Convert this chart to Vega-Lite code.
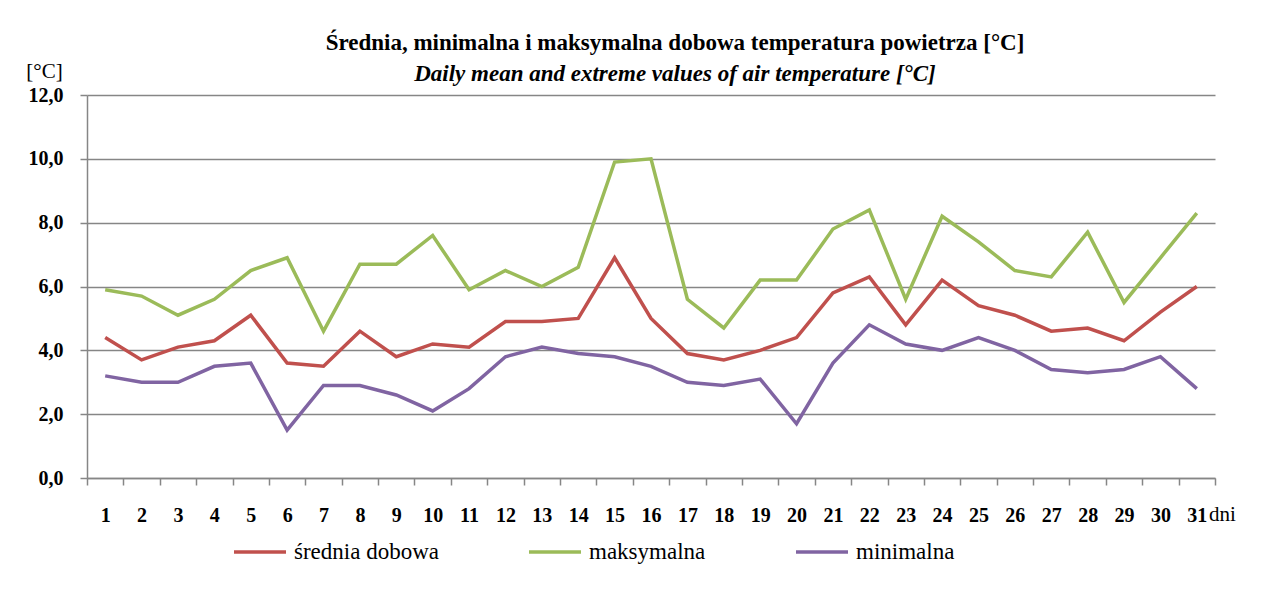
{
  "$schema": "https://vega.github.io/schema/vega-lite/v6.json",
  "autosize": "none",
  "width": 1128,
  "height": 383,
  "padding": {"left": 87, "top": 95, "right": 49, "bottom": 114},
  "background": "white",
  "title": {
    "text": "Średnia, minimalna i maksymalna dobowa temperatura powietrza [°C]",
    "subtitle": "Daily mean and extreme values of air temperature [°C]",
    "anchor": "middle",
    "frame": "group",
    "dx": 24,
    "dy": 39,
    "offset": 13,
    "font": "Liberation Serif",
    "fontSize": 23,
    "fontWeight": "bold",
    "color": "black",
    "subtitleFont": "Liberation Serif",
    "subtitleFontSize": 23,
    "subtitleFontWeight": "bold",
    "subtitleFontStyle": "italic",
    "subtitleColor": "black",
    "subtitlePadding": 8
  },
  "data": {
    "values": [
      {"dzien": 1, "średnia dobowa": 4.4, "maksymalna": 5.9, "minimalna": 3.2},
      {"dzien": 2, "średnia dobowa": 3.7, "maksymalna": 5.7, "minimalna": 3.0},
      {"dzien": 3, "średnia dobowa": 4.1, "maksymalna": 5.1, "minimalna": 3.0},
      {"dzien": 4, "średnia dobowa": 4.3, "maksymalna": 5.6, "minimalna": 3.5},
      {"dzien": 5, "średnia dobowa": 5.1, "maksymalna": 6.5, "minimalna": 3.6},
      {"dzien": 6, "średnia dobowa": 3.6, "maksymalna": 6.9, "minimalna": 1.5},
      {"dzien": 7, "średnia dobowa": 3.5, "maksymalna": 4.6, "minimalna": 2.9},
      {"dzien": 8, "średnia dobowa": 4.6, "maksymalna": 6.7, "minimalna": 2.9},
      {"dzien": 9, "średnia dobowa": 3.8, "maksymalna": 6.7, "minimalna": 2.6},
      {"dzien": 10, "średnia dobowa": 4.2, "maksymalna": 7.6, "minimalna": 2.1},
      {"dzien": 11, "średnia dobowa": 4.1, "maksymalna": 5.9, "minimalna": 2.8},
      {"dzien": 12, "średnia dobowa": 4.9, "maksymalna": 6.5, "minimalna": 3.8},
      {"dzien": 13, "średnia dobowa": 4.9, "maksymalna": 6.0, "minimalna": 4.1},
      {"dzien": 14, "średnia dobowa": 5.0, "maksymalna": 6.6, "minimalna": 3.9},
      {"dzien": 15, "średnia dobowa": 6.9, "maksymalna": 9.9, "minimalna": 3.8},
      {"dzien": 16, "średnia dobowa": 5.0, "maksymalna": 10.0, "minimalna": 3.5},
      {"dzien": 17, "średnia dobowa": 3.9, "maksymalna": 5.6, "minimalna": 3.0},
      {"dzien": 18, "średnia dobowa": 3.7, "maksymalna": 4.7, "minimalna": 2.9},
      {"dzien": 19, "średnia dobowa": 4.0, "maksymalna": 6.2, "minimalna": 3.1},
      {"dzien": 20, "średnia dobowa": 4.4, "maksymalna": 6.2, "minimalna": 1.7},
      {"dzien": 21, "średnia dobowa": 5.8, "maksymalna": 7.8, "minimalna": 3.6},
      {"dzien": 22, "średnia dobowa": 6.3, "maksymalna": 8.4, "minimalna": 4.8},
      {"dzien": 23, "średnia dobowa": 4.8, "maksymalna": 5.6, "minimalna": 4.2},
      {"dzien": 24, "średnia dobowa": 6.2, "maksymalna": 8.2, "minimalna": 4.0},
      {"dzien": 25, "średnia dobowa": 5.4, "maksymalna": 7.4, "minimalna": 4.4},
      {"dzien": 26, "średnia dobowa": 5.1, "maksymalna": 6.5, "minimalna": 4.0},
      {"dzien": 27, "średnia dobowa": 4.6, "maksymalna": 6.3, "minimalna": 3.4},
      {"dzien": 28, "średnia dobowa": 4.7, "maksymalna": 7.7, "minimalna": 3.3},
      {"dzien": 29, "średnia dobowa": 4.3, "maksymalna": 5.5, "minimalna": 3.4},
      {"dzien": 30, "średnia dobowa": 5.2, "maksymalna": 6.9, "minimalna": 3.8},
      {"dzien": 31, "średnia dobowa": 6.0, "maksymalna": 8.3, "minimalna": 2.8}
    ]
  },
  "transform": [
    {"fold": ["średnia dobowa", "maksymalna", "minimalna"], "as": ["seria", "wartosc"]}
  ],
  "mark": {"type": "line", "strokeWidth": 3.5, "strokeJoin": "miter"},
  "encoding": {
    "x": {
      "field": "dzien",
      "type": "ordinal",
      "bandPosition": 0.5,
      "scale": {"type": "band", "paddingInner": 0, "paddingOuter": 0},
      "axis": {
        "title": "dni",
        "titleX": 1135,
        "titleY": 42,
        "titleAlign": "center",
        "titleBaseline": "alphabetic",
        "titleFont": "Liberation Serif",
        "titleFontSize": 21,
        "titleFontWeight": "normal",
        "titleColor": "black",
        "labelAngle": 0,
        "labelFont": "Liberation Serif",
        "labelFontSize": 20,
        "labelFontWeight": "bold",
        "labelColor": "black",
        "labelPadding": 20,
        "tickBand": "extent",
        "tickSize": 7,
        "tickColor": "#868686",
        "tickWidth": 1.5,
        "domainColor": "#868686",
        "domainWidth": 1.5,
        "grid": false
      }
    },
    "y": {
      "field": "wartosc",
      "type": "quantitative",
      "scale": {"domain": [0, 12], "nice": false},
      "axis": {
        "title": "[°C]",
        "titleAngle": 0,
        "titleX": -43,
        "titleY": -18,
        "titleAlign": "center",
        "titleBaseline": "alphabetic",
        "titleFont": "Liberation Serif",
        "titleFontSize": 21,
        "titleFontWeight": "normal",
        "titleColor": "black",
        "values": [0, 2, 4, 6, 8, 10, 12],
        "labelExpr": "replace(format(datum.value, '.1f'), '.', ',')",
        "labelFont": "Liberation Serif",
        "labelFontSize": 20,
        "labelFontWeight": "bold",
        "labelColor": "black",
        "labelPadding": 17,
        "tickSize": 7,
        "tickColor": "#868686",
        "tickWidth": 1.5,
        "domainColor": "#868686",
        "domainWidth": 1.5,
        "grid": true,
        "gridColor": "#868686",
        "gridWidth": 1.5
      }
    },
    "color": {
      "field": "seria",
      "type": "nominal",
      "scale": {
        "domain": ["średnia dobowa", "maksymalna", "minimalna"],
        "range": ["#C0504D", "#9BBB59", "#8064A2"]
      },
      "legend": {
        "title": null,
        "orient": "none",
        "direction": "horizontal",
        "legendX": 145,
        "legendY": 429,
        "symbolType": "stroke",
        "symbolSize": 2704,
        "symbolStrokeWidth": 3.5,
        "labelFont": "Liberation Serif",
        "labelFontSize": 23,
        "labelColor": "black",
        "labelOffset": 6,
        "columnPadding": 83
      }
    }
  },
  "config": {
    "font": "Liberation Serif",
    "view": {"stroke": null}
  }
}
